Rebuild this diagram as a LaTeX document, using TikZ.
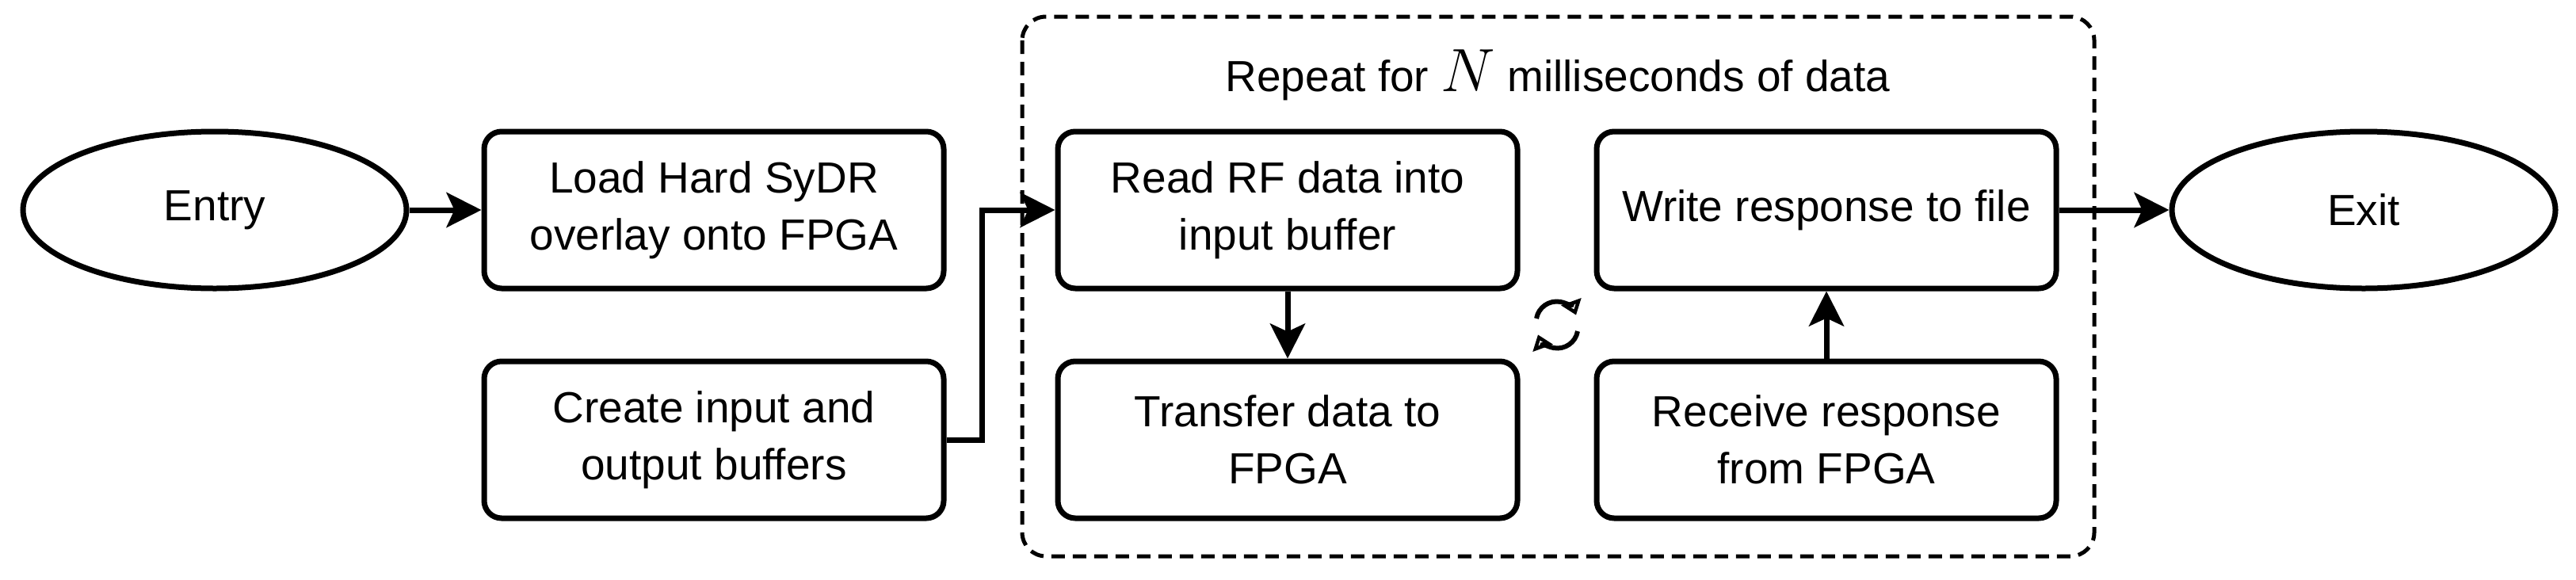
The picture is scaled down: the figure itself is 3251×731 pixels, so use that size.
\documentclass[tikz,border=0pt]{standalone}
\usepackage{fontspec}
\setmainfont{Liberation Sans}
\usetikzlibrary{shapes.geometric,arrows.meta}
\begin{document}
\begin{tikzpicture}[x=1pt,y=-1pt,
  box/.style={draw,line width=7pt,rounded corners=22pt,minimum width=580pt,minimum height=198pt,align=center,font=\fontsize{55}{72}\selectfont,inner sep=0pt},
  ell/.style={draw,ellipse,line width=7pt,minimum width=484pt,minimum height=198pt,font=\fontsize{55}{72}\selectfont,inner sep=0pt},
  arr/.style={line width=7pt,-{Stealth[length=44pt,width=44pt,inset=10pt]}}]
\useasboundingbox (0,0) rectangle (3251,731);
\draw[line width=5pt,dash pattern=on 17pt off 10pt,rounded corners=30pt] (1290,21) rectangle (2643,702);
\node[font=\fontsize{55}{60}\selectfont] (title) at (1966,95) {Repeat for \scalebox{3.1}{$N$} milliseconds of data};
\node[ell] (entry) at (271,265) {Entry};
\node[box] (load) at (901,265) {Load Hard SyDR\\overlay onto FPGA};
\node[box] (create) at (901,555) {Create input and\\output buffers};
\node[box] (read) at (1625,265) {Read RF data into\\input buffer};
\node[box] (transfer) at (1625,555) {Transfer data to\\FPGA};
\node[box] (write) at (2305,265) {Write response to file};
\node[box] (receive) at (2305,555) {Receive response\\from FPGA};
\node[ell] (exit) at (2983,265) {Exit};
\coordinate (bend) at (1239,555);
\draw[arr] (entry) -- (load);
\draw[arr] (create.east) -- (bend) |- (read.west);
\draw[arr] (read) -- (transfer);
\draw[arr] (receive) -- (write);
\draw[arr] (write) -- (exit);
% cycle icon
\coordinate (cyc) at (1965,410);
\draw[line width=6pt,-{Triangle[open,length=18pt,width=26pt]}] ([shift={(-26,-8)}]cyc) arc[start angle=190,end angle=340,x radius=26pt,y radius=-26pt];
\draw[line width=6pt,-{Triangle[open,length=18pt,width=26pt]}] ([shift={(26,8)}]cyc) arc[start angle=10,end angle=160,x radius=26pt,y radius=-26pt];
\end{tikzpicture}
\end{document}
